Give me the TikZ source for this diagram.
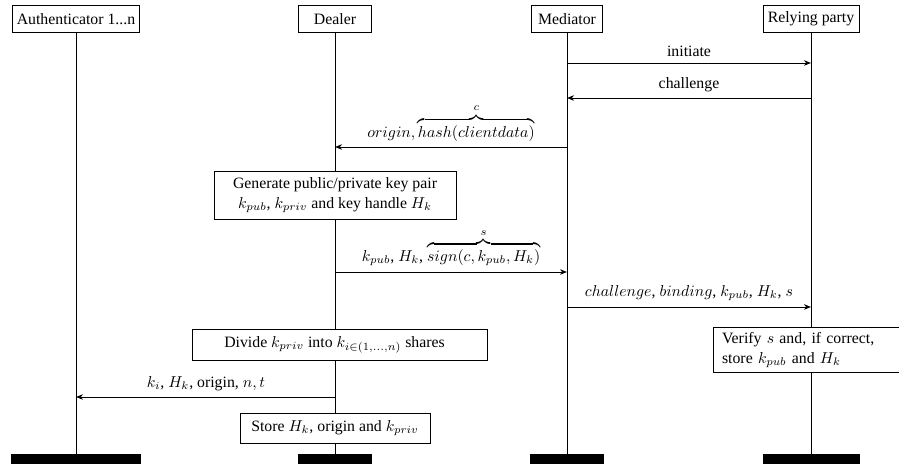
\documentclass[tikz,border=0pt]{standalone}
\usepackage[no-math]{fontspec}
\setmainfont{Liberation Serif}
\usetikzlibrary{arrows.meta}
\begin{document}
\begin{tikzpicture}[x=0.633pt,y=-0.633pt,
  every node/.style={font=\fontsize{10}{12.5}\selectfont},
  inst/.style={draw, line width=0.6pt, inner sep=0pt, minimum height=16.5pt},
  lifebar/.style={fill=black, inner sep=0pt, minimum height=6.3pt},
  life/.style={line width=0.6pt},
  msg/.style={line width=0.6pt, -{Stealth[length=4.5pt,width=3.5pt]}},
  act/.style={draw, line width=0.6pt, fill=white, inner sep=0pt, align=center},
  lbl/.style={above, inner sep=3.5pt}]
\useasboundingbox (0,0) rectangle (899,466);
% instances
\node[inst, minimum width=79.8pt] (A) at (76,19) {Authenticator 1...n};
\node[inst, minimum width=46.2pt] (D) at (335,19) {Dealer};
\node[inst, minimum width=44.9pt] (M) at (567,19) {Mediator};
\node[inst, minimum width=60.8pt] (R) at (811,19) {Relying party};
% bottom bars
\node[lifebar, minimum width=81.7pt] (Ab) at (76,459) {};
\node[lifebar, minimum width=46.8pt] (Db) at (335,459) {};
\node[lifebar, minimum width=46.8pt] (Mb) at (567,459) {};
\node[lifebar, minimum width=61.4pt] (Rb) at (811,459) {};
% lifelines
\draw[life] (A) -- (Ab);
\draw[life] (D) -- (Db);
\draw[life] (M) -- (Mb);
\draw[life] (R) -- (Rb);
% message end points
\coordinate (m1) at (567,63);  \coordinate (r1) at (811,63);
\coordinate (r2) at (811,98);  \coordinate (m2) at (567,98);
\coordinate (m3) at (567,147); \coordinate (d3) at (335,147);
\coordinate (d4) at (335,272); \coordinate (m4) at (567,272);
\coordinate (m5) at (567,307); \coordinate (r5) at (811,307);
\coordinate (d6) at (336,397); \coordinate (a6) at (76,397);
% messages
\draw[msg] (m1) -- node[lbl] {initiate} (r1);
\draw[msg] (r2) -- node[lbl] {challenge} (m2);
\draw[msg] (m3) -- node[lbl] {$origin, \overbrace{hash(clientdata)}^{c}$} (d3);
\draw[msg] (d4) -- node[lbl] {$k_{pub}$, $H_k$, $\overbrace{sign(c,k_{pub},H_k)}^{s}$} (m4);
\draw[msg] (m5) -- node[lbl] {$challenge$, $binding$, $k_{pub}$, $H_k$, $s$} (r5);
\draw[msg] (d6) -- node[lbl] {$k_i$, $H_k$, origin, $n,t$} (a6);
% activity boxes
\node[act, minimum width=153.2pt, minimum height=30.4pt] (gen) at (335,195)
  {Generate public/private key pair\\ $k_{pub}$, $k_{priv}$ and key handle $H_k$};
\node[act, minimum width=186.7pt, minimum height=19.6pt] (div) at (339.5,344.5)
  {Divide $k_{priv}$ into $k_{i\in(1,\ldots,n)}$ shares\hspace{6.3pt}};
\node[act, minimum width=120.3pt, minimum height=19pt] (store) at (335,428)
  {Store $H_k$, origin and $k_{priv}$};
\node[act, align=left, text width=112.6pt, inner xsep=5.7pt, minimum height=27.9pt] (ver) at (811,350)
  {Verify $s$ and, if correct,\\ store $k_{pub}$ and $H_k$};
\end{tikzpicture}
\end{document}
